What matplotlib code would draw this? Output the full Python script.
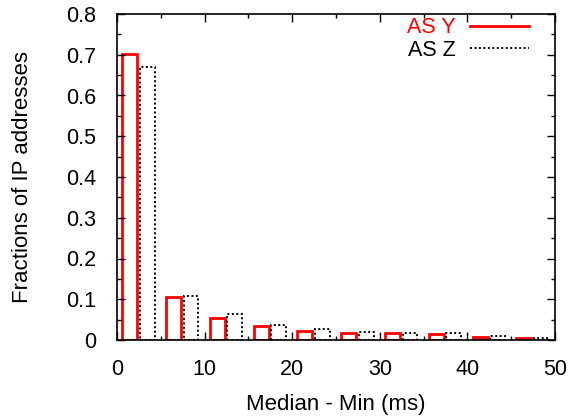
import matplotlib
matplotlib.use("Agg")
import matplotlib.pyplot as plt
import numpy as np
from matplotlib.ticker import MultipleLocator, FuncFormatter
from matplotlib.lines import Line2D

plt.rcParams['font.family'] = ['Liberation Sans', 'DejaVu Sans']

bin_starts = [0, 5, 10, 15, 20, 25, 30, 35, 40, 45]
as_y = [0.701, 0.106, 0.054, 0.034, 0.022, 0.016, 0.016, 0.014, 0.0065, 0.004]
as_z = [0.669, 0.108, 0.063, 0.038, 0.028, 0.019, 0.017, 0.018, 0.010, 0.0057]

FS = 15.5
LFS = 16
fig = plt.figure(figsize=(5.74, 4.16), dpi=100)
ax = fig.add_axes([117/574, (416-340)/416, 438/574, 326/416])

x = np.array(bin_starts, dtype=float)
w = 1.7
dots = (0, (1, 1.3))
ax.bar(x + 1.45, as_y, width=w, facecolor='none', edgecolor='#ff0000', linewidth=2.0)
ax.bar(x + 3.45, as_z, width=w, facecolor='none', edgecolor='black', linewidth=1.4,
       linestyle=dots)

ax.set_xlim(0, 50)
ax.set_ylim(0, 0.8)
ax.xaxis.set_major_locator(MultipleLocator(10))
ax.xaxis.set_minor_locator(MultipleLocator(5))
ax.yaxis.set_major_locator(MultipleLocator(0.1))
ax.yaxis.set_minor_locator(MultipleLocator(0.05))
ax.tick_params(which='both', direction='in', top=True, right=True, labelsize=FS)
ax.tick_params(which='major', length=6, width=1.0)
ax.tick_params(which='minor', length=3, width=1.0)
ax.tick_params(axis='y', which='major', pad=15)
ax.tick_params(axis='x', which='major', pad=14)
ax.yaxis.set_major_formatter(FuncFormatter(lambda v, p: '0' if abs(v) < 1e-9 else f'{v:.1f}'))
for s in ax.spines.values():
    s.set_linewidth(1.2)

ax.set_xlabel('Median - Min (ms)', fontsize=LFS, labelpad=10)
ax.set_ylabel('Fractions of IP addresses', fontsize=LFS, labelpad=24)

handles = [Line2D([], [], color='#ff0000', lw=2.0),
           Line2D([], [], color='black', lw=1.4, linestyle=dots)]
leg = ax.legend(handles, ['AS Y', 'AS Z'], loc='upper right', frameon=False,
                markerfirst=False, fontsize=FS, handlelength=2.75,
                bbox_to_anchor=(0.9406, 0.99), borderaxespad=0, borderpad=0,
                labelspacing=0.06, handletextpad=0.65)
leg.get_texts()[0].set_color('#ff0000')

fig.savefig('out.png', dpi=100)
